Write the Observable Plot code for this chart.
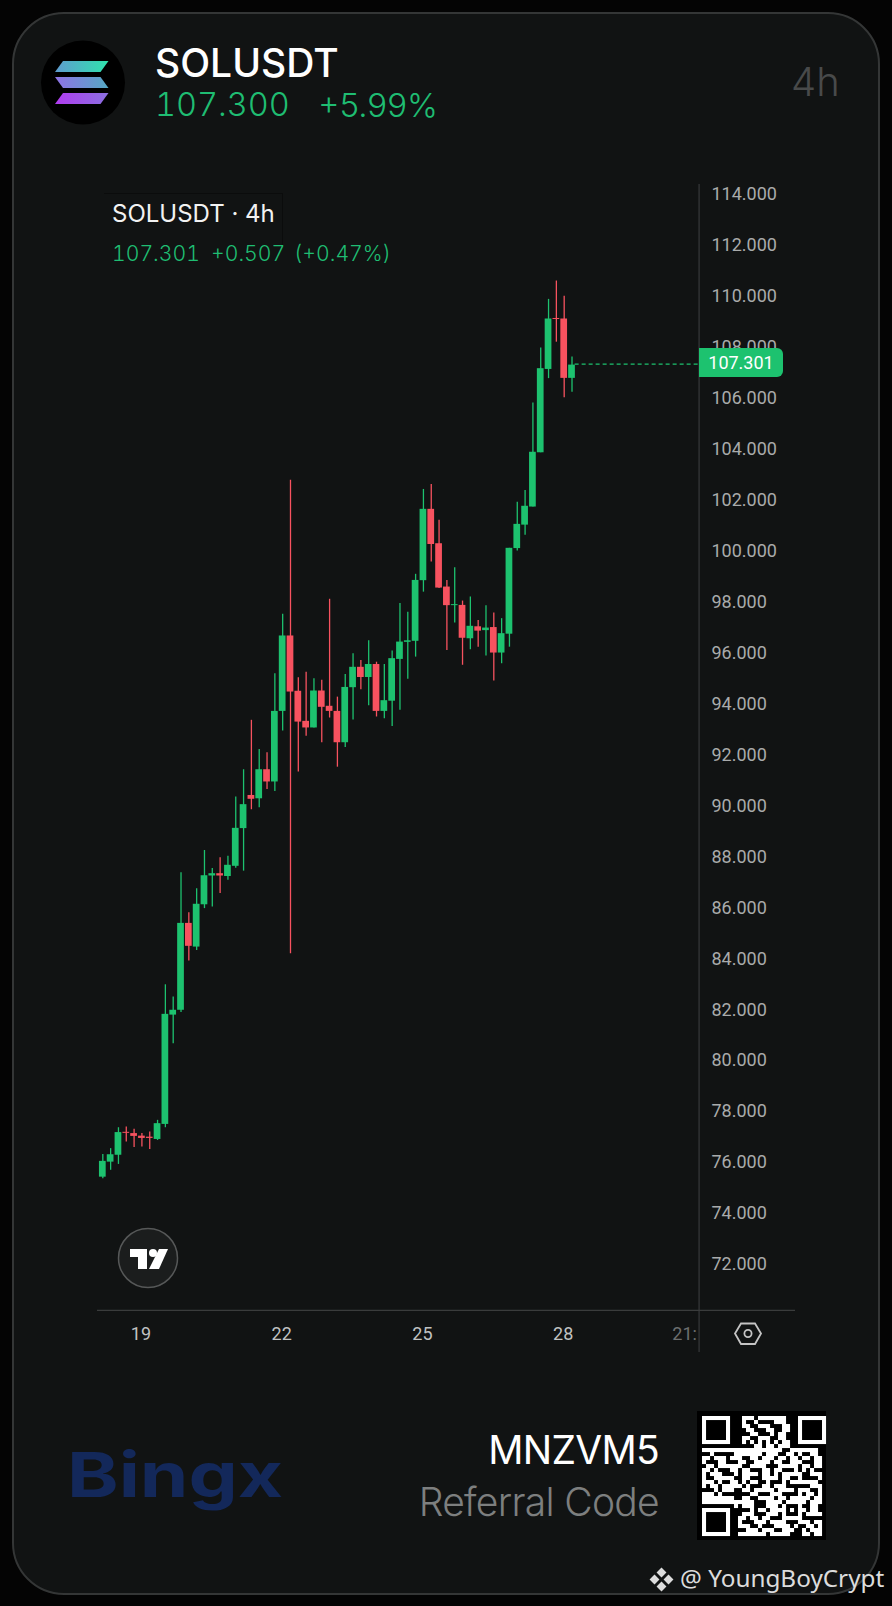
<!DOCTYPE html>
<html>
<head>
<meta charset="utf-8">
<script src="https://cdn.jsdelivr.net/npm/d3@7"></script>
<script src="https://cdn.jsdelivr.net/npm/@observablehq/plot@0.6"></script>
<style>
html,body{margin:0;padding:0;background:#040404;}
#root{position:relative;width:892px;height:1606px;overflow:hidden;font-family:Inter,sans-serif;}
#card{position:absolute;left:12px;top:12px;width:864px;height:1579px;background:#111313;border:2px solid #343636;border-radius:52px;}
.t{position:absolute;white-space:nowrap;line-height:1;}
.n{font-feature-settings:"tnum" 1;}
#chart{position:absolute;left:0;top:0;}
svg.ov{position:absolute;left:0;top:0;}
</style>
</head>
<body>
<div id="root">
<div id="card"></div>
<div style="position:absolute;left:104px;top:193px;width:178px;height:52px;border-top:1px solid #0b0c0c;border-right:1px solid #0b0c0c;"></div>
<div id="chart"></div>
<svg class="ov" width="892" height="1606" viewBox="0 0 892 1606" id="deco">
  <defs>
    <linearGradient id="sol1" x1="0" y1="0" x2="1" y2="0"><stop offset="0" stop-color="#5f9bd0"/><stop offset="1" stop-color="#2fe3ad"/></linearGradient>
    <linearGradient id="sol2" x1="0" y1="0" x2="1" y2="0"><stop offset="0" stop-color="#8f72e6"/><stop offset="1" stop-color="#55a9c4"/></linearGradient>
    <linearGradient id="sol3" x1="0" y1="0" x2="1" y2="0"><stop offset="0" stop-color="#b13cf0"/><stop offset="1" stop-color="#8a6fe0"/></linearGradient>
  </defs>
  <circle cx="83" cy="82.5" r="42" fill="#000"/>
  <polygon points="63,61 108.5,61 100.5,72 55,72" fill="url(#sol1)"/>
  <polygon points="55,77 100.5,77 108.5,88 63,88" fill="url(#sol2)"/>
  <polygon points="63,93 108.5,93 100.5,104 55,104" fill="url(#sol3)"/>
  <circle cx="148" cy="1258" r="29.5" fill="#1b1d1d" stroke="#565858" stroke-width="1.5"/>
  <path d="M130 1249H147V1269H138V1257H130Z" fill="#fff"/>
  <circle cx="153" cy="1253" r="4" fill="#fff"/>
  <path d="M159 1249H168L159 1269H149Z" fill="#fff"/>
  <path d="M741 1323.5H755L761 1333.5L755 1344H741L735 1333.5Z" fill="none" stroke="#c4c4c4" stroke-width="1.8"/>
  <circle cx="748" cy="1333.5" r="3.6" fill="none" stroke="#c4c4c4" stroke-width="1.8"/>
  <g fill="#dcdcdc">
    <rect x="658" y="1569" width="7" height="7" transform="rotate(45 661.5 1572.5)"/>
    <rect x="658" y="1583" width="7" height="7" transform="rotate(45 661.5 1586.5)"/>
    <rect x="651" y="1576" width="7" height="7" transform="rotate(45 654.5 1579.5)"/>
    <rect x="665" y="1576" width="7" height="7" transform="rotate(45 668.5 1579.5)"/>
  </g>
  <g id="qr"></g>
</svg>
<div class="t" style="left:155px;top:43px;font-size:39px;font-weight:500;color:#fff;">SOLUSDT</div>
<div class="t n" style="left:155px;top:89px;font-size:32.5px;font-weight:300;color:#1fbd72;">107.300</div>
<div class="t" style="left:318px;top:89px;font-size:33px;font-weight:300;color:#1fbd72;">+5.99%</div>
<div class="t" style="left:791px;top:62px;font-size:40px;font-weight:300;color:#484a4a;">4h</div>
<div class="t" style="left:112px;top:202px;font-size:24px;font-weight:400;color:#f2f2f2;">SOLUSDT · 4h</div>
<div class="t n" style="left:112px;top:243px;font-size:21.2px;font-weight:300;color:#1fbd72;">107.301</div>
<div class="t n" style="left:211px;top:243px;font-size:21.2px;font-weight:300;color:#1fbd72;">+0.507</div>
<div class="t n" style="left:294px;top:243px;font-size:21.2px;font-weight:300;color:#1fbd72;">(+0.47%)</div>
<div class="t" style="left:67px;top:1444px;font-size:62px;font-weight:700;color:#13285a;transform:scaleX(1.26);transform-origin:left top;">Bingx</div>
<div class="t" style="right:233px;top:1430px;font-size:39px;font-weight:400;letter-spacing:-0.7px;color:#fff;">MNZVM5</div>
<div class="t" style="right:233px;top:1482px;font-size:39px;font-weight:300;letter-spacing:-0.7px;color:#7d7f7f;">Referral Code</div>
<div class="t" style="left:680px;top:1566px;font-size:24.3px;font-family:'Noto Sans',sans-serif;color:#dcdcdc;">@ YoungBoyCrypt</div>
</div>
<script>
const opens  = [75.43,76.02,76.29,77.19,77.14,77.04,77.00,76.91,77.50,81.79,81.98,85.39,84.46,86.12,87.25,87.34,87.23,87.63,89.11,90.41,90.28,91.42,90.94,93.71,96.67,94.50,93.32,93.06,94.51,93.91,93.71,92.48,94.64,95.44,95.04,95.55,93.71,94.11,95.75,96.42,96.46,98.84,101.64,100.29,98.59,97.86,97.87,96.56,97.03,96.88,97.00,96.00,96.74,100.10,101.02,101.73,103.86,107.13,109.13,109.11,106.78];
const highs  = [76.32,76.55,77.37,77.40,77.31,77.14,77.20,77.66,82.98,82.50,87.38,85.81,86.75,88.25,87.54,87.97,88.02,90.35,91.42,93.36,92.21,92.09,95.19,97.52,102.78,95.03,95.25,94.99,94.93,98.11,94.27,95.16,95.97,95.71,96.48,95.64,95.55,96.08,97.94,97.60,99.09,102.42,102.61,101.21,98.85,99.35,98.04,98.20,97.28,97.86,97.57,97.35,100.11,101.92,102.38,105.81,107.97,109.88,110.60,110.00,107.62];
const lows   = [75.37,75.70,75.93,76.81,76.59,76.61,76.52,76.87,77.37,80.67,81.89,83.91,84.33,85.97,86.03,86.56,87.08,87.55,87.44,89.85,89.93,90.64,90.57,92.94,84.20,91.33,92.73,93.06,92.48,93.45,91.52,92.29,93.37,94.56,93.93,93.49,93.42,93.12,93.75,94.97,95.84,98.39,99.57,98.53,96.10,97.18,95.52,96.13,96.23,95.88,94.90,95.58,96.23,100.00,100.62,101.73,103.86,106.77,108.20,106.02,106.24];
const closes = [76.05,76.31,77.18,77.15,77.03,76.95,76.95,77.53,81.82,81.98,85.39,84.49,86.14,87.26,87.34,87.25,87.67,89.12,90.05,90.26,91.42,90.94,93.71,96.67,94.47,93.29,93.06,94.51,93.87,93.71,92.48,94.65,95.44,95.04,95.55,93.71,94.13,95.78,96.43,96.48,98.85,101.64,100.26,98.55,97.86,97.90,96.58,97.05,96.86,96.98,96.00,96.76,100.11,101.05,101.76,103.88,107.16,109.11,109.09,106.78,107.301];
const yTicks = [72,74,76,78,80,82,84,86,88,90,92,94,96,98,100,102,104,106,108,110,112,114];
const dayTicks = [19,22,25,28];
const lastPrice = 107.301;
const qrRows = [
"#######...###.#######...#######",
"#.....#...#..#....###...#.....#",
"#.....#...##..###...##..#.....#",
"#.....#....##...##..##..#.....#",
"#.....#.....##...#.##...#.....#",
"#.....#...##..###..##...#.....#",
"#######...#.#.#.#.#.##..#######",
".............##.##.###........",
"####################..#######..",
"..#.....#######.###..##.#..##.",
"##.###.###..##.###.##.##.##.##",
"#...##...##..####.##..###...##",
".##.######..####...#####.##.##",
"##.#...##.##...##.##...#.#.#..",
"#.###...#.####.##.#.#####..###",
"#..#####..##...####.##..#....#",
"###.#..##.#.##..#...#.#######.",
"#.##.#####.#...##.###......###",
"...#.###..##.#####.####.###..#",
"###.#.......##...###....#.##.#",
"########..##..####.##.#####.##",
"#############...####.#####.###",
"........#.###...###.#...#..##.",
"#######.....#.##.####.#.##.##.",
"#.....#...###...###.#...#.####",
"#.....#..##.##.##...#####.....",
"#.....#..#...###.####...###.##",
"#.....#..###..#...####.#..##.#",
"#.....#....###.###..###..#.###",
"#######..#######.#####...##.##"
];

const green="#1dc26f", red="#f7525f";
const start = Date.UTC(2023,11,18,4);
const at = i => new Date(start + i*4*3600e3);
const candles = opens.map((o,i)=>({i,time:at(i),t1:at(i-0.43),t2:at(i+0.43),open:o,high:highs[i],low:lows[i],close:closes[i],dir:closes[i]>=o?"up":"down"}));
const leftT=at(-0.68), rightT=at(88.58), axisT=at(76.25);
const dayDates = dayTicks.map(d=>new Date(Date.UTC(2023,11,d)));

const plot = Plot.plot({
  width:892,height:1606,
  marginTop:0,marginLeft:0,marginRight:192,marginBottom:296,
  style:{background:"transparent",fontFamily:"Roboto, sans-serif",fontSize:"18px",color:"#a9abab"},
  x:{type:"utc",domain:[leftT,rightT],range:[97,795]},
  y:{domain:[58.58,121.61],range:[1606,0]},
  color:{domain:["up","down"],range:[green,red]},
  marks:[
    Plot.ruleX([axisT],{y1:114.39,y2:68.55,stroke:"#37393a",strokeWidth:1.2}),
    Plot.ruleY([70.2],{x1:leftT,x2:rightT,stroke:"#3a3c3c",strokeWidth:1.2}),
    Plot.axisY(yTicks,{anchor:"right",tickSize:0,tickPadding:11,tickFormat:d3.format(".3f"),label:null,fill:"#a9abab"}),
    Plot.axisX(dayDates,{anchor:"bottom",tickSize:0,tickPadding:17,tickFormat:d3.utcFormat("%-d"),label:null,fill:"#c0c2c2",fontSize:18,dx:-1}),
    Plot.text(["21:"],{x:at(74.4),y:69.26,fill:"#6c6e6e",fontSize:18,textAnchor:"middle"}),
    Plot.ruleX(candles,{x:"time",y1:"low",y2:"high",stroke:"dir",strokeWidth:1.3}),
    Plot.rect(candles,{x1:"t1",x2:"t2",y1:"open",y2:"close",fill:"dir"}),
    Plot.ruleY([lastPrice],{x1:at(60.4),x2:axisT,stroke:green,strokeWidth:1.2,strokeDasharray:"4 3",dy:-1})
  ]
});
document.getElementById("chart").appendChild(plot);

// last price tag, placed through the chart's own y scale
const yPx = plot.scale("y").apply(lastPrice);
const tag = document.createElement("div");
tag.textContent = d3.format(".3f")(lastPrice);
tag.style.cssText = `position:absolute;left:699px;top:${yPx-16.5}px;width:84px;height:29px;line-height:29px;background:${green};color:#fff;border-radius:0 6px 6px 0;text-align:center;font-size:18px;font-family:Roboto,sans-serif;`;
document.getElementById("root").appendChild(tag);

// QR block
const g = d3.select("#qr");
g.append("rect").attr("x",697).attr("y",1411).attr("width",129).attr("height",129).attr("fill","#000");
qrRows.forEach((row,r)=>[...row].forEach((c,k)=>{
  if(c==="#") g.append("rect").attr("x",702+k*4).attr("y",1416+r*4).attr("width",4.05).attr("height",4.05).attr("fill","#fff");
}));
</script>
</body>
</html>
